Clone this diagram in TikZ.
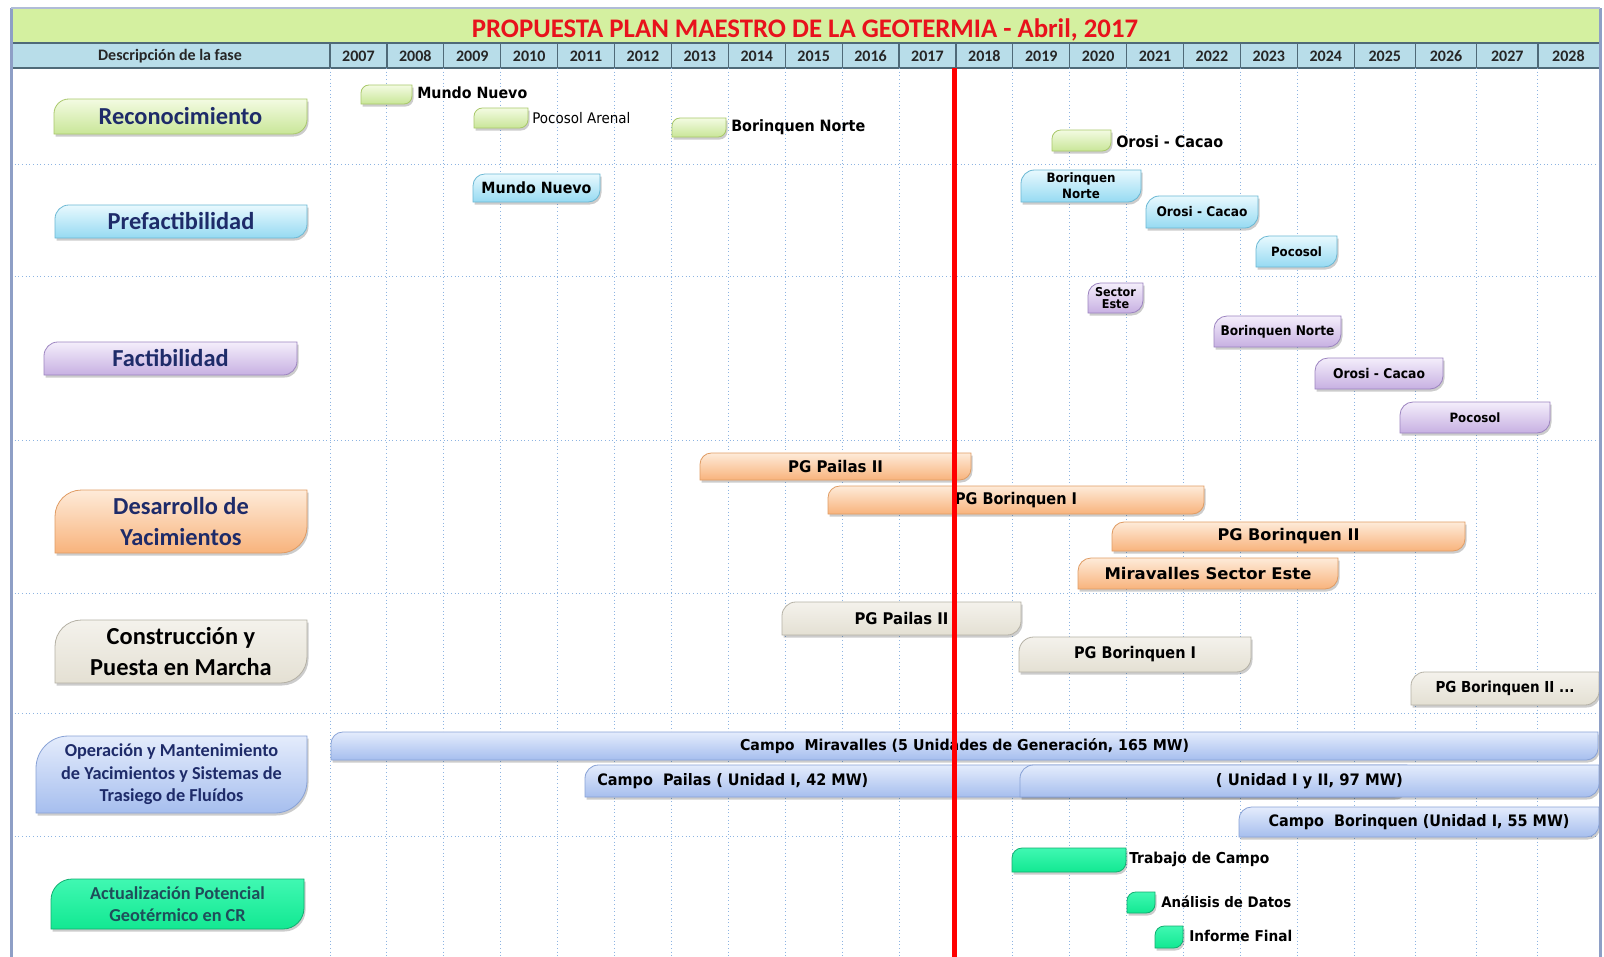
\documentclass[tikz,border=0pt]{standalone}
\usepackage{fontspec}
\setmainfont{Carlito}
\newfontfamily\barfont{DejaVu Sans}[FakeStretch=0.92]
\usepackage{graphicx}
\newlength\px \setlength\px{0.75pt}
\definecolor{titlegreen}{HTML}{D4F0A0}
\definecolor{titlered}{HTML}{E8121C}
\definecolor{headblue}{HTML}{B8DDE9}
\definecolor{headline}{HTML}{4F6A78}
\definecolor{gridblue}{HTML}{8DB4E2}
\definecolor{framecol}{HTML}{8E9FC6}
\definecolor{navy}{HTML}{1E2B69}
\definecolor{teal}{HTML}{1F4E5A}
\definecolor{grnT}{HTML}{F3FBE2}\definecolor{grnB}{HTML}{C9E698}\definecolor{grnD}{HTML}{A9C86A}
\definecolor{cyaT}{HTML}{E8F9FE}\definecolor{cyaB}{HTML}{96DAF2}\definecolor{cyaD}{HTML}{6BB8D4}
\definecolor{lavT}{HTML}{F4EEFB}\definecolor{lavB}{HTML}{C7B0E2}\definecolor{lavD}{HTML}{9C84C0}
\definecolor{pchT}{HTML}{FEEBD9}\definecolor{pchB}{HTML}{F8B37C}\definecolor{pchD}{HTML}{E09C64}
\definecolor{bgeT}{HTML}{F4F2EC}\definecolor{bgeB}{HTML}{E4E0D3}\definecolor{bgeD}{HTML}{B5B1A5}
\definecolor{bluT}{HTML}{E4ECFC}\definecolor{bluB}{HTML}{A6BEEE}\definecolor{bluD}{HTML}{88A2D6}
\definecolor{mntT}{HTML}{40F8B2}\definecolor{mntB}{HTML}{12E892}\definecolor{mntD}{HTML}{12AE70}
\newcommand\rdpath[4]{({#1},{#4}) -- ({#1},{#2+\rr}) .. controls ({#1},{#2+0.448*\rr}) and ({#1+0.448*\rr},{#2}) .. ({#1+\rr},{#2}) -- ({#3},{#2}) -- ({#3},{#4-\rr}) .. controls ({#3},{#4-0.448*\rr}) and ({#3-0.448*\rr},{#4}) .. ({#3-\rr},{#4}) -- cycle}
\newcommand\gbar[8]{%
  \pgfmathsetmacro\rr{0.42*(#5-#3)}%
  \fill[black,opacity=0.2,shift={(1.5,2.5)}] \rdpath{#2}{#3}{#4}{#5};
  \shade[top color=#6T, bottom color=#6B, draw=#6D, line width=0.8\px] \rdpath{#2}{#3}{#4}{#5};
  \node[#7] (#1) at ({(#2+#4)/2},{(#3+#5)/2}) {#8};
}
\newcommand\fw[2]{\resizebox{#1\px}{!}{#2}}
\newcommand\fwh[3]{\resizebox{#1\px}{#2\px}{#3}}
\tikzset{
  gridline/.style={draw=gridblue, dotted, line width=1\px},
  phase/.style={inner sep=0pt, align=center, text=navy, font=\fontsize{18.3}{23}\selectfont\bfseries},
  phasesmall/.style={inner sep=0pt, align=center, text=navy, font=\fontsize{13.7}{16.9}\selectfont\bfseries},
  bartext/.style={inner sep=0pt, text=black, font=\barfont\bfseries},
  sidetext/.style={inner sep=0pt, anchor=west, text=black, font=\barfont\bfseries},
  headtext/.style={inner sep=0pt, text=black!85, font=\fontsize{12}{14}\selectfont\bfseries},
}
\begin{document}
\begin{tikzpicture}[x=0.75pt,y=-0.75pt]
\useasboundingbox (0,0) rectangle (1604,957);
\fill[white] (0,0) rectangle (1604,957);
% title bar and header
\fill[titlegreen] (11,8) rectangle (1600,43);
\node[inner sep=0pt, text=titlered, font=\fontsize{20.1}{24}\selectfont\bfseries] (title) at (805,29.5) {PROPUESTA PLAN MAESTRO DE LA GEOTERMIA - Abril, 2017};
\fill[headblue] (11,43) rectangle (1600,68);
\draw[headline, line width=1.2\px] (11,43) -- (1600,43);
\draw[headline, line width=1.5\px] (11,68) -- (1600,68);
\node[headtext] (hdesc) at (170,56) {Descripción de la fase};
\foreach \a/\b/\yr in {330/386.9/2007,386.9/443.8/2008,443.8/500.7/2009,500.7/557.6/2010,557.6/614.5/2011,614.5/671.4/2012,671.4/728.3/2013,728.3/785.2/2014,785.2/842.1/2015,842.1/899/2016,899/955.9/2017,955.9/1012.8/2018,1012.8/1069.7/2019,1069.7/1126.6/2020,1126.6/1183.5/2021,1183.5/1240.4/2022,1240.4/1297.3/2023,1297.3/1354.2/2024,1354.2/1415.4/2025,1415.4/1476.7/2026,1476.7/1537.9/2027,1537.9/1599/2028}{
  \draw[headline, line width=1.2\px] (\a,43) -- (\a,68);
  \node[headtext] (y\yr) at ({(\a+\b)/2},56) {\yr};
  \draw[gridline] (\a,68) -- (\a,957);
}
% row separators
\foreach \yy in {164,276,440,593,713,836}{
  \draw[gridline] (11,\yy) -- (1600,\yy);
}
% phase labels
\gbar{reco}{54}{99}{307}{134}{grn}{phase}{Reconocimiento}
\gbar{pref}{55}{205}{307}{238}{cya}{phase}{Prefactibilidad}
\gbar{fact}{44}{342}{297}{375}{lav}{phase}{Factibilidad}
\gbar{desa}{55}{490}{307}{553}{pch}{phase}{Desarrollo de\\Yacimientos}
\gbar{cons}{55}{620}{307}{683}{bge}{phase,text=black}{Construcción y\\Puesta en Marcha}
\gbar{oper}{36}{736}{307}{813}{blu}{phasesmall}{Operación y Mantenimiento\\de Yacimientos y Sistemas de\\Trasiego de Fluídos}
\gbar{actu}{51}{879}{304}{929}{mnt}{phasesmall,text=teal}{Actualización Potencial\\Geotérmico en CR}
% Reconocimiento bars
\gbar{r1}{361}{85}{412}{104}{grn}{bartext}{}
\node[sidetext] (r1t) at (417,93) {\fw{110}{Mundo Nuevo}};
\gbar{r2}{474}{108}{528}{128}{grn}{bartext}{}
\node[sidetext, font=\barfont] (r2t) at (532,118) {\fw{98}{Pocosol Arenal}};
\gbar{r3}{672}{118}{726}{137}{grn}{bartext}{}
\node[sidetext] (r3t) at (731,127) {\fw{134}{Borinquen Norte}};
\gbar{r4}{1052}{130}{1111}{151}{grn}{bartext}{}
\node[sidetext] (r4t) at (1116,142) {\fw{107}{Orosi - Cacao}};
% Prefactibilidad bars
\gbar{p1}{473}{174}{600}{202}{cya}{bartext}{\fw{110}{Mundo Nuevo}}
\gbar{p2}{1021}{170}{1141}{202}{cya}{bartext}{\fw{69}{\shortstack{Borinquen\\Norte}}}
\gbar{p3}{1146}{196}{1258}{228}{cya}{bartext}{\fw{91}{Orosi - Cacao}}
\gbar{p4}{1256}{236}{1337}{267}{cya}{bartext}{\fw{51}{Pocosol}}
% Factibilidad bars
\gbar{f1}{1088}{283}{1143}{313}{lav}{bartext}{\fw{41}{\shortstack{Sector\\Este}}}
\gbar{f2}{1214}{316}{1341}{347}{lav}{bartext}{\fw{114}{Borinquen Norte}}
\gbar{f3}{1315}{358}{1443}{389}{lav}{bartext}{\fw{92}{Orosi - Cacao}}
\gbar{f4}{1400}{402}{1550}{433}{lav}{bartext}{\fw{51}{Pocosol}}
% Desarrollo bars
\gbar{d1}{700}{453}{971}{480}{pch}{bartext}{\fwh{95}{12.2}{PG Pailas II}}
\gbar{d2}{828}{486}{1204}{514}{pch}{bartext}{\fwh{122}{12.2}{PG Borinquen I}}
\gbar{d3}{1112}{522}{1465}{551}{pch}{bartext}{\fwh{142}{12.2}{PG Borinquen II}}
\gbar{d4}{1078}{558}{1338}{589}{pch}{bartext}{\fwh{207}{12.2}{Miravalles Sector Este}}
% Construccion bars
\gbar{c1}{782}{602}{1021}{635}{bge}{bartext}{\fwh{94}{12.2}{PG Pailas II}}
\gbar{c2}{1019}{637}{1251}{672}{bge}{bartext}{\fwh{122}{12.2}{PG Borinquen I}}
\gbar{c3}{1411}{672}{1599}{705}{bge}{bartext}{\fwh{139}{11.5}{PG Borinquen II ...}}
% Operacion bars
\gbar{o1}{331}{732}{1598}{760}{blu}{bartext}{\fwh{449}{12}{Campo~ Miravalles (5 Unidades de Generación, 165 MW)}}
\gbar{o2}{585}{765}{1407}{797}{blu}{bartext}{}
\node[inner sep=0pt, anchor=west, font=\barfont\bfseries] (o2t) at (597,781) {\fwh{271}{12}{Campo~ Pailas ( Unidad I, 42 MW)}};
\gbar{o3}{1020}{765}{1599}{797}{blu}{bartext}{\fwh{187}{12}{( Unidad I y II, 97 MW)}}
\gbar{o4}{1239}{807}{1599}{837}{blu}{bartext}{\fwh{301}{12}{Campo~ Borinquen (Unidad I, 55 MW)}}
% Actualizacion bars
\gbar{a1}{1012}{848}{1126}{872}{mnt}{bartext}{}
\node[sidetext] (a1t) at (1129,859) {\fw{140}{Trabajo de Campo}};
\gbar{a2}{1127}{892}{1155}{913}{mnt}{bartext}{}
\node[sidetext] (a2t) at (1161,902) {\fw{130}{Análisis de Datos}};
\gbar{a3}{1155}{926}{1183}{948}{mnt}{bartext}{}
\node[sidetext] (a3t) at (1189,936) {\fw{103}{Informe Final}};
% today line
\coordinate (nowtop) at (954.5,68);
\coordinate (nowbot) at (954.5,957);
\draw[red, line width=5\px] (nowtop) -- (nowbot);
% frame
\draw[framecol, line width=3\px] (11,8) -- (11,957);
\draw[framecol, line width=3\px] (1600,8) -- (1600,957);
\draw[framecol!70, line width=1.5\px] (11,8) -- (1600,8);
\end{tikzpicture}
\end{document}
